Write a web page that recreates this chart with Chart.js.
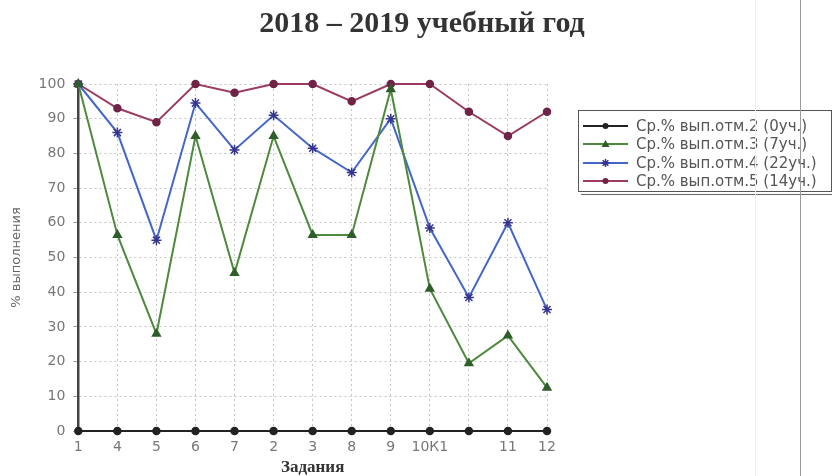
<!DOCTYPE html>
<html><head><meta charset="utf-8">
<script src="https://cdn.jsdelivr.net/npm/chart.js@4.4.0/dist/chart.umd.min.js"></script>
<style>
html,body{margin:0;padding:0;background:#fff;}
#wrap{position:relative;width:835px;height:476px;overflow:hidden;}
#c{position:absolute;left:0;top:0;}
.vl{position:absolute;top:0;height:476px;width:1px;pointer-events:none;}
#legend{position:absolute;left:578px;top:110px;width:254px;height:82px;border:1px solid #555;box-sizing:border-box;
  font-family:'DejaVu Sans',sans-serif;font-size:15px;color:#555;}
#legend .shadow{position:absolute;left:2px;right:-1px;bottom:-4px;height:0;border-top:1.5px solid #666;}
#legend .it{position:absolute;left:4px;height:18px;line-height:18px;white-space:nowrap;display:flex;align-items:center;}
#legend .it canvas{margin-right:8px;}
</style></head><body>
<div id="wrap"><canvas id="c" width="835" height="476"></canvas>
<div id="legend"><div class="shadow"></div></div>
<div class="vl" style="left:755px;background:#eee"></div>
<div class="vl" style="left:800px;background:#9a9a9a"></div></div>
<script>
const titleText = '2018 – 2019 учебный год';
const xTitle = 'Задания';
const yTitle = '% выполнения';
const categories = ['1','4','5','6','7','2','3','8','9','10К1','','11','12'];
const seriesNames = ['Ср.% вып.отм.2 (0уч.)','Ср.% вып.отм.3 (7уч.)','Ср.% вып.отм.4 (22уч.)','Ср.% вып.отм.5 (14уч.)'];
const mark2 = [0,0,0,0,0,0,0,0,0,0,0,0,0];
const mark3 = [100,56.5,28,85,45.5,85,56.5,56.5,98.5,41,19.5,27.5,12.5];
const mark4 = [100,86,55,94.5,81,91,81.5,74.5,90,58.5,38.5,60,35];
const mark5 = [100,93,89,100,97.5,100,100,95,100,100,92,85,92];

const styles = [
  {line:'#222222', mk:'#222222', ps:'circle', r:3.5},
  {line:'#4e8a3e', mk:'#2f5e2a', ps:'triangle', r:4.5},
  {line:'#4466cc', mk:'#35358f', ps:'star', r:5},
  {line:'#9c3a62', mk:'#6e2545', ps:'circle', r:3.5}
];
const seriesData = [mark2, mark3, mark4, mark5];

function legendImg(s){
  const c = document.createElement('canvas'); c.width = 45; c.height = 12;
  const x = c.getContext('2d');
  x.strokeStyle = s.line; x.lineWidth = 2;
  x.beginPath(); x.moveTo(0,6); x.lineTo(45,6); x.stroke();
  x.fillStyle = s.mk; x.strokeStyle = s.mk; x.lineWidth = 1.5;
  const cx = 22.5, cy = 6;
  if (s.ps === 'circle'){ x.beginPath(); x.arc(cx,cy,3,0,Math.PI*2); x.fill(); }
  else if (s.ps === 'triangle'){ x.beginPath(); x.moveTo(cx,cy-4); x.lineTo(cx+4,cy+3); x.lineTo(cx-4,cy+3); x.closePath(); x.fill(); }
  else { x.beginPath(); for (let a=0;a<4;a++){ const ang=a*Math.PI/4; x.moveTo(cx-4*Math.cos(ang),cy-4*Math.sin(ang)); x.lineTo(cx+4*Math.cos(ang),cy+4*Math.sin(ang)); } x.stroke(); }
  return c;
}

const datasets = seriesData.map((d,i)=>({
  label: seriesNames[i], data: d,
  borderColor: styles[i].line, backgroundColor: styles[i].mk,
  borderWidth: 2, tension: 0,
  pointStyle: styles[i].ps, pointRadius: styles[i].r,
  pointBackgroundColor: styles[i].mk, pointBorderColor: styles[i].mk, pointBorderWidth: 1.5,
  clip: 12
}));

const chart = new Chart(document.getElementById('c'), {
  type:'line',
  data:{labels:categories, datasets},
  options:{
    responsive:false, animation:false,
    layout:{padding:{left:9, right:0, top:0, bottom:0}},
    plugins:{
      title:{display:true, text:titleText, color:'#333',
        font:{family:'Liberation Serif', size:30, weight:'bold'}, padding:{top:6, bottom:42}},
      legend:{display:false},
      tooltip:{enabled:false}
    },
    scales:{
      x:{type:'category', offset:false,
        grid:{color:'#c4c4c4', lineWidth:1, drawTicks:true, tickLength:4, tickColor:'#999'},
        border:{display:true, color:'#333', width:2, dash:[2,3]},
        ticks:{color:'#777', font:{family:'DejaVu Sans', size:14, lineHeight:1.0}, padding:5, autoSkip:false, maxRotation:0},
        title:{display:true, text:xTitle, color:'#333', font:{family:'Liberation Serif', size:17, weight:'bold', lineHeight:1.0}, padding:{top:0, bottom:0}}},
      y:{min:0, max:100,
        ticks:{stepSize:10, color:'#777', font:{family:'DejaVu Sans', size:14}, padding:8},
        grid:{color:'#c4c4c4', lineWidth:1, tickLength:5, tickColor:'#999'},
        border:{display:true, color:'#444', width:2.5, dash:[2,3]},
        title:{display:true, text:yTitle, color:'#666', font:{family:'DejaVu Sans', size:13}, padding:{top:0, bottom:6}}},
      y2:{position:'right', display:true, min:0, max:100,
        grid:{display:false}, ticks:{display:false}, border:{display:false},
        afterFit:(s)=>{ s.width = 288; }}
    }
  }
});

// HTML legend built from the chart's datasets
const lg = document.getElementById('legend');
chart.data.datasets.forEach((ds,i)=>{
  const it = document.createElement('div');
  it.className = 'it';
  it.style.top = (6 + i*18.3) + 'px';
  it.appendChild(legendImg(styles[i]));
  const sp = document.createElement('span'); sp.textContent = ds.label;
  it.appendChild(sp);
  lg.appendChild(it);
});
</script>
</body></html>
